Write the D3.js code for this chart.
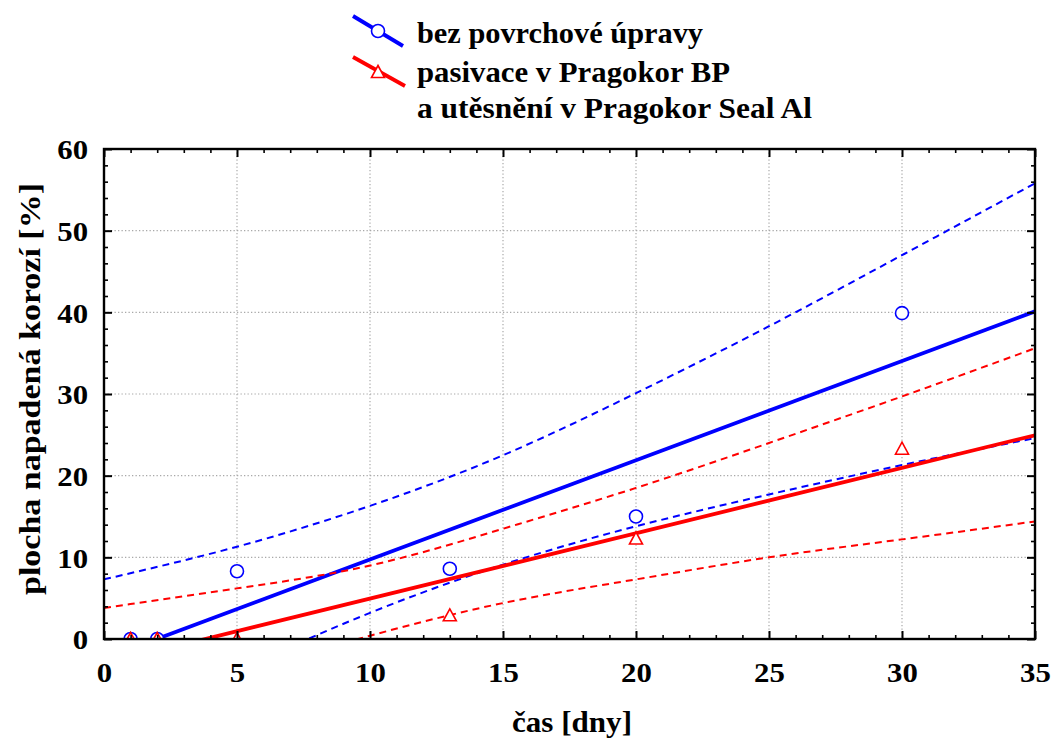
<!DOCTYPE html>
<html>
<head>
<meta charset="utf-8">
<script src="https://cdn.jsdelivr.net/npm/d3@7"></script>
<style>
  html, body { margin: 0; padding: 0; background: #fff; }
  svg { display: block; }
  text { font-family: "Liberation Serif", Tinos, "Times New Roman", Times, serif; font-weight: 700; fill: #000; }
</style>
</head>
<body>
<svg id="chart" width="1053" height="742"></svg>
<script>
// Measured corroded area [%] after exposure time [days]
const days = [1, 2, 5, 13, 20, 30];
const areaBare = [0, 0, 8.3, 8.6, 15.0, 39.9];      // without surface treatment
const areaSealed = [0, 0, 0, 2.9, 12.3, 23.3];      // passivated + sealed

// 95% confidence limits of the linear fits
const bandDays = [0, 5, 10, 15, 20, 25, 30, 35];
const bareUpper = [7.3, 11.3, 16.3, 22.5, 30.1, 38.3, 47.0, 55.8];
const bareLower = [-12.1, -4.0, 3.2, 9.1, 13.8, 17.7, 21.3, 24.6];
const sealedUpper = [3.8, 6.2, 9.0, 13.5, 18.5, 24.0, 29.7, 35.6];
const sealedLower = [-9.6, -4.3, 0.4, 4.4, 7.3, 10.0, 12.2, 14.4];

const xTicks = [0, 5, 10, 15, 20, 25, 30, 35];
const yTicks = [0, 10, 20, 30, 40, 50, 60];
const xMinor = [1,2,3,4,6,7,8,9,11,12,13,14,16,17,18,19,21,22,23,24,26,27,28,29,31,32,33,34];
const yMinor = [2,4,6,8,12,14,16,18,22,24,26,28,32,34,36,38,42,44,46,48,52,54,56,58];

const legendLabels = ["bez povrchové úpravy", "pasivace v Pragokor BP", "a utěsnění v Pragokor Seal Al"];
const xTitle = "čas [dny]";
const yTitle = "plocha napadená korozí [%]";

const BLUE = "#0000ff", RED = "#ff0000";

const svg = d3.select("#chart");
const plot = { left: 104, right: 1035, top: 149, bottom: 639 };

const x = d3.scaleLinear().domain([0, 35]).range([plot.left, plot.right]);
const y = d3.scaleLinear().domain([0, 60]).range([plot.bottom, plot.top]);

svg.append("defs").append("clipPath").attr("id", "plotClip")
  .append("rect")
  .attr("x", plot.left).attr("y", plot.top)
  .attr("width", plot.right - plot.left).attr("height", plot.bottom - plot.top);

// dotted grid
const grid = svg.append("g").attr("stroke", "#a8a8a8").attr("stroke-width", 1.2)
  .attr("stroke-dasharray", "1.3,2.2");
grid.selectAll(".gx").data(xTicks.filter(d => d > 0 && d < 35)).join("line")
  .attr("x1", d => x(d)).attr("x2", d => x(d))
  .attr("y1", plot.top).attr("y2", plot.bottom);
grid.selectAll(".gy").data(yTicks.filter(d => d > 0 && d < 60)).join("line")
  .attr("y1", d => y(d)).attr("y2", d => y(d))
  .attr("x1", plot.left).attr("x2", plot.right);

// least squares line through the measurements
function fit(xs, ys) {
  const mx = d3.mean(xs), my = d3.mean(ys);
  const sxy = d3.sum(xs, (v, i) => (v - mx) * (ys[i] - my));
  const sxx = d3.sum(xs, v => (v - mx) * (v - mx));
  const b = sxy / sxx;
  return { a: my - b * mx, b };
}

const layer = svg.append("g").attr("clip-path", "url(#plotClip)");
const bandLine = d3.line().curve(d3.curveNatural).x(d => x(d[0])).y(d => y(d[1]));

function drawSeries(vals, upper, lower, color, marker) {
  const g = layer.append("g");
  [upper, lower].forEach(arr => {
    g.append("path")
      .attr("d", bandLine(bandDays.map((d, i) => [d, arr[i]])))
      .attr("fill", "none").attr("stroke", color).attr("stroke-width", 2)
      .attr("stroke-dasharray", "7,5");
  });
  const f = fit(days, vals);
  g.append("line")
    .attr("x1", x(0)).attr("y1", y(f.a))
    .attr("x2", x(35)).attr("y2", y(f.a + f.b * 35))
    .attr("stroke", color).attr("stroke-width", 3.8);
  const m = g.selectAll(".m").data(days.map((d, i) => [d, vals[i]])).join("g")
    .attr("transform", d => `translate(${x(d[0])},${y(d[1])})`);
  marker(m);
}

const circleMarker = sel => sel.append("circle").attr("r", 6.5)
  .attr("fill", "#fff").attr("stroke", BLUE).attr("stroke-width", 1.6);
const triangleMarker = sel => sel.append("path").attr("d", "M0,-6.5L6.5,5.5L-6.5,5.5Z")
  .attr("fill", "#fff").attr("stroke", RED).attr("stroke-width", 1.6);

drawSeries(areaBare, bareUpper, bareLower, BLUE, circleMarker);
drawSeries(areaSealed, sealedUpper, sealedLower, RED, triangleMarker);

// axes with inward ticks on all four sides
function axisGroup(axis, tx, ty) {
  const g = svg.append("g").attr("transform", `translate(${tx},${ty})`).call(axis);
  g.select(".domain").remove();
  g.attr("font-family", null).attr("font-size", null);
  return g;
}
const major = 8, minor = 4;
const bottom = axisGroup(d3.axisBottom(x).tickValues(xTicks).tickSize(-major), 0, plot.bottom);
bottom.selectAll("line").attr("stroke-width", 2);
bottom.selectAll("text").attr("y", 43).attr("dy", null)
  .attr("font-size", 28).attr("transform", "scale(1.1,1)");
axisGroup(d3.axisBottom(x).tickValues(xMinor).tickSize(-minor).tickFormat(""), 0, plot.bottom)
  .selectAll("line").attr("stroke-width", 1.6);

const left = axisGroup(d3.axisLeft(y).tickValues(yTicks).tickSize(-major), plot.left, 0);
left.selectAll("line").attr("stroke-width", 2);
left.selectAll("text").attr("x", -14.5).attr("dy", "0.35em")
  .attr("font-size", 28).attr("transform", "scale(1.1,1)");
axisGroup(d3.axisLeft(y).tickValues(yMinor).tickSize(-minor).tickFormat(""), plot.left, 0)
  .selectAll("line").attr("stroke-width", 1.6);

axisGroup(d3.axisTop(x).tickValues(xTicks).tickSize(-major).tickFormat(""), 0, plot.top)
  .selectAll("line").attr("stroke-width", 2);
axisGroup(d3.axisTop(x).tickValues(xMinor).tickSize(-minor).tickFormat(""), 0, plot.top)
  .selectAll("line").attr("stroke-width", 1.6);
axisGroup(d3.axisRight(y).tickValues(yTicks).tickSize(-major).tickFormat(""), plot.right, 0)
  .selectAll("line").attr("stroke-width", 2);
axisGroup(d3.axisRight(y).tickValues(yMinor).tickSize(-minor).tickFormat(""), plot.right, 0)
  .selectAll("line").attr("stroke-width", 1.6);

svg.append("rect")
  .attr("x", plot.left).attr("y", plot.top)
  .attr("width", plot.right - plot.left).attr("height", plot.bottom - plot.top)
  .attr("fill", "none").attr("stroke", "#000").attr("stroke-width", 2.4);

// axis titles
svg.append("text").attr("x", 512).attr("y", 732)
  .attr("font-size", 29).attr("textLength", 120).attr("lengthAdjust", "spacingAndGlyphs")
  .text(xTitle);
svg.append("text").attr("transform", "translate(40,389) rotate(-90)")
  .attr("text-anchor", "middle").attr("font-size", 29)
  .attr("textLength", 412).attr("lengthAdjust", "spacingAndGlyphs")
  .text(yTitle);

// legend
const leg = svg.append("g");
leg.append("line").attr("x1", 353).attr("y1", 16).attr("x2", 403).attr("y2", 46)
  .attr("stroke", BLUE).attr("stroke-width", 3.8);
leg.append("circle").attr("cx", 378).attr("cy", 31).attr("r", 6.5)
  .attr("fill", "#fff").attr("stroke", BLUE).attr("stroke-width", 1.6);
leg.append("line").attr("x1", 353).attr("y1", 57).attr("x2", 405).attr("y2", 86)
  .attr("stroke", RED).attr("stroke-width", 3.8);
leg.append("path").attr("transform", "translate(378,72)").attr("d", "M0,-6.5L6.5,5.5L-6.5,5.5Z")
  .attr("fill", "#fff").attr("stroke", RED).attr("stroke-width", 1.6);

const legendBase = [43, 81.5, 118];
const legendWidth = [286, 313, 395];
leg.selectAll(".lt").data(legendLabels).join("text")
  .attr("x", 417).attr("y", (d, i) => legendBase[i])
  .attr("font-size", 30)
  .attr("textLength", (d, i) => legendWidth[i]).attr("lengthAdjust", "spacingAndGlyphs")
  .text(d => d);
</script>
</body>
</html>
